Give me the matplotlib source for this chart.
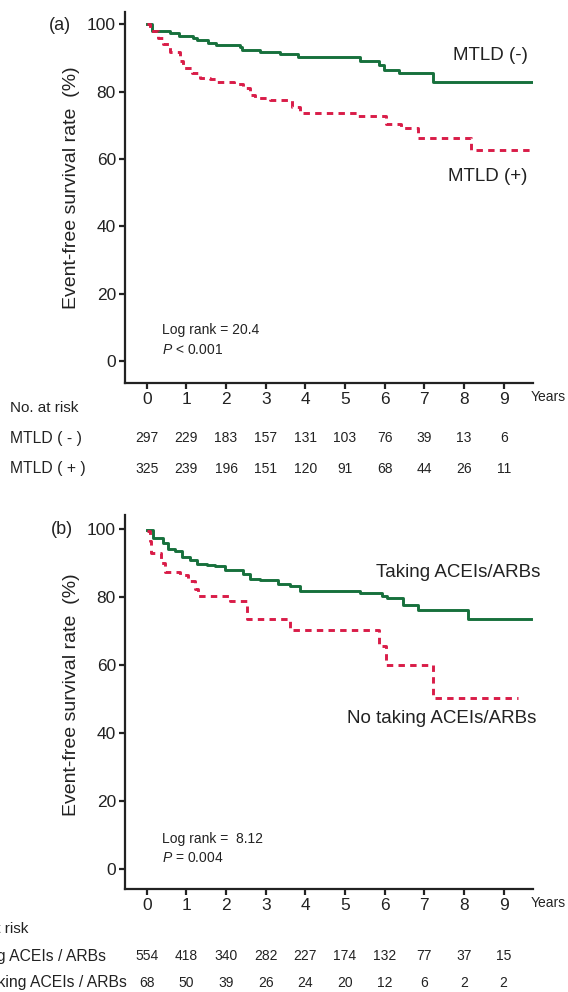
import matplotlib
matplotlib.use('Agg')
import matplotlib.pyplot as plt
from matplotlib.transforms import blended_transform_factory

plt.rcParams['font.family'] = ['Liberation Sans', 'DejaVu Sans']
plt.rcParams['mathtext.fontset'] = 'custom'
plt.rcParams['mathtext.rm'] = 'Liberation Sans'
plt.rcParams['mathtext.it'] = 'Liberation Sans:italic'

NARROW = ['Liberation Sans Narrow', 'Liberation Sans']
GREEN = '#17703c'
RED = '#d91c48'
INK = '#222222'

# (a) MTLD curves: times (years) and survival (%)
t_mtld_neg = [0, 0.14, 0.58, 0.81, 1.17, 1.26, 1.55, 1.76, 2.34, 2.40, 2.86, 3.37,
              3.81, 5.39, 5.86, 5.98, 6.35, 7.21, 9.74]
s_mtld_neg = [100, 98.0, 97.3, 96.6, 96.0, 95.2, 94.5, 93.9, 93.1, 92.4, 91.8, 91.1,
              90.1, 89.1, 87.9, 86.4, 85.6, 82.9, 82.9]
t_mtld_pos = [0, 0.08, 0.29, 0.41, 0.58, 0.84, 0.92, 1.13, 1.34, 1.59, 1.76, 2.19,
              2.44, 2.61, 2.73, 3.11, 3.66, 3.87, 5.31, 6.03, 6.41, 6.83, 8.18, 9.74]
s_mtld_pos = [100, 98.0, 96.0, 94.0, 91.6, 89.1, 87.1, 85.6, 84.1, 83.6, 82.8, 82.1,
              81.1, 79.0, 78.2, 77.5, 75.5, 73.6, 72.7, 70.5, 69.2, 66.3, 62.6, 62.6]

# (b) ACEI/ARB curves
t_taking = [0, 0.16, 0.41, 0.54, 0.71, 0.88, 1.09, 1.26, 1.51, 1.72, 1.97, 2.44,
            2.61, 2.86, 3.32, 3.62, 3.87, 5.39, 5.94, 6.07, 6.45, 6.83, 8.09, 9.70]
s_taking = [99.5, 97.3, 95.8, 94.0, 93.3, 91.6, 90.7, 89.7, 89.4, 88.9, 87.7, 86.7,
            85.3, 84.8, 83.8, 83.0, 81.7, 81.0, 80.2, 79.5, 77.5, 76.0, 73.4, 73.4]
t_no_taking = [0, 0.08, 0.12, 0.37, 0.45, 0.84, 1.05, 1.22, 1.30, 2.10, 2.52, 3.62,
               5.86, 6.03, 7.21, 9.36]
s_no_taking = [99.2, 96.3, 92.8, 89.9, 87.3, 86.4, 84.5, 82.1, 80.2, 78.6, 73.4, 70.1,
               65.4, 59.8, 50.2, 50.2]

years = list(range(10))
risk_mtld_neg = [297, 229, 183, 157, 131, 103, 76, 39, 13, 6]
risk_mtld_pos = [325, 239, 196, 151, 120, 91, 68, 44, 26, 11]
risk_taking = [554, 418, 340, 282, 227, 174, 132, 77, 37, 15]
risk_no_taking = [68, 50, 39, 26, 24, 20, 12, 6, 2, 2]

W, H = 568, 992
fig = plt.figure(figsize=(W / 100, H / 100), dpi=100)


def fy(py):
    return 1 - py / H


def make_axes(top_px, bottom_px, ylim):
    ax = fig.add_axes([125 / W, fy(bottom_px), (533 - 125) / W, (bottom_px - top_px) / H])
    ax.set_xlim(-0.547, 9.74)
    ax.set_ylim(*ylim)
    for side in ['top', 'right']:
        ax.spines[side].set_visible(False)
    for side in ['left', 'bottom']:
        ax.spines[side].set_linewidth(1.6)
        ax.spines[side].set_color(INK)
    ax.set_xticks(years)
    ax.set_yticks([0, 20, 40, 60, 80, 100])
    ax.tick_params(length=4, width=1.6, color=INK, labelsize=12.5, pad=2.5)
    for lab in ax.get_xticklabels() + ax.get_yticklabels():
        lab.set_family(NARROW)
        lab.set_color(INK)
    ax.set_ylabel('Event-free survival rate  (%)', fontsize=14, color=INK)
    return ax


def risk_row(ax, py, values, label, label_x):
    tr = blended_transform_factory(ax.transData, fig.transFigure)
    for x, v in zip(years, values):
        ax.text(x, fy(py), str(v), transform=tr, ha='center', va='center',
                fontsize=10, family=NARROW, color=INK)
    fig.text(label_x / W, fy(py), label, ha='left', va='center', fontsize=11.3, color=INK)


# ---- panel (a)
ax1 = make_axes(12, 383, (-6.5, 103.6))
ax1.yaxis.set_label_coords(-0.11, 0.526)
ax1.step(t_mtld_neg, s_mtld_neg, where='post', color=GREEN, lw=2.1)
ax1.step(t_mtld_pos, s_mtld_pos, where='post', color=RED, lw=2.1, dashes=(2.2, 1.8))
ax1.text(9.6, 90.8, 'MTLD (-)', ha='right', va='center', fontsize=13.5, color=INK)
ax1.text(9.6, 54.9, 'MTLD (+)', ha='right', va='center', fontsize=13.5, color=INK)
ax1.text(0.39, 9.2, 'Log rank = 20.4', ha='left', va='center', fontsize=10, color=INK)
ax1.text(0.39, 3.3, r'$\mathit{P}$ < 0.001', ha='left', va='center', fontsize=10, color=INK)
fig.text(60 / W, fy(25), '(a)', ha='center', va='center', fontsize=13, color=INK)
fig.text(531 / W, fy(397), 'Years', ha='left', va='center', fontsize=10, color=INK)
fig.text(10 / W, fy(408), 'No. at risk', ha='left', va='center', fontsize=11, color=INK)
risk_row(ax1, 438, risk_mtld_neg, 'MTLD ( - )', 10)
risk_row(ax1, 469, risk_mtld_pos, 'MTLD ( + )', 10)

# ---- panel (b)
ax2 = make_axes(515, 889, (-6, 104))
ax2.yaxis.set_label_coords(-0.11, 0.519)
ax2.step(t_taking, s_taking, where='post', color=GREEN, lw=2.1)
ax2.step(t_no_taking, s_no_taking, where='post', color=RED, lw=2.1, dashes=(2.2, 1.8))
ax2.text(9.93, 87.1, 'Taking ACEIs/ARBs', ha='right', va='center', fontsize=13.5, color=INK)
ax2.text(9.83, 44.1, 'No taking ACEIs/ARBs', ha='right', va='center', fontsize=13.5, color=INK)
ax2.text(0.39, 8.8, 'Log rank =  8.12', ha='left', va='center', fontsize=10, color=INK)
ax2.text(0.39, 3.2, r'$\mathit{P}$ = 0.004', ha='left', va='center', fontsize=10, color=INK)
fig.text(62 / W, fy(530), '(b)', ha='center', va='center', fontsize=13, color=INK)
fig.text(531 / W, fy(903), 'Years', ha='left', va='center', fontsize=10, color=INK)
# the reference crops these row labels at the left edge
fig.text(-40 / W, fy(929), 'No. at risk', ha='left', va='center', fontsize=11, color=INK)
risk_row(ax2, 956, risk_taking, 'Taking ACEIs / ARBs', -40)
risk_row(ax2, 983, risk_no_taking, 'No taking ACEIs / ARBs', -40)

fig.savefig('out.png', dpi=100)
